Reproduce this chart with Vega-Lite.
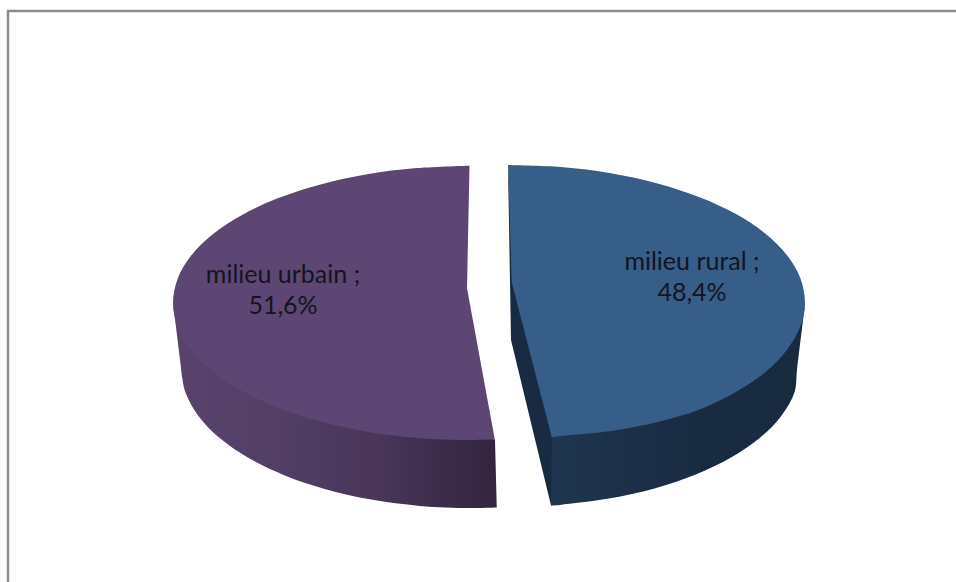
{
  "$schema": "https://vega.github.io/schema/vega-lite/v6.json",
  "autosize": {"type": "fit", "contains": "padding"},
  "width": 956,
  "height": 582,
  "padding": 0,
  "background": "#ffffff",
  "view": {"stroke": null},
  "datasets": {
    "outlines": [
      {"part": "frame", "seq": 1, "x": 956, "y": 11},
      {"part": "frame", "seq": 2, "x": 8, "y": 11},
      {"part": "frame", "seq": 3, "x": 8, "y": 582},

      {"part": "urbain_side", "seq": 1, "x": 173, "y": 303},
      {"part": "urbain_side", "seq": 2, "x": 177.5, "y": 323.8},
      {"part": "urbain_side", "seq": 3, "x": 190.8, "y": 346.9},
      {"part": "urbain_side", "seq": 4, "x": 212.5, "y": 368.5},
      {"part": "urbain_side", "seq": 5, "x": 242, "y": 388.1},
      {"part": "urbain_side", "seq": 6, "x": 278.4, "y": 404.9},
      {"part": "urbain_side", "seq": 7, "x": 320.5, "y": 418.6},
      {"part": "urbain_side", "seq": 8, "x": 367.1, "y": 428.7},
      {"part": "urbain_side", "seq": 9, "x": 416.8, "y": 434.9},
      {"part": "urbain_side", "seq": 10, "x": 468, "y": 437},
      {"part": "urbain_side", "seq": 11, "x": 495, "y": 439.3},
      {"part": "urbain_side", "seq": 11.5, "x": 495, "y": 439.3},
      {"part": "urbain_side", "seq": 12, "x": 497, "y": 507.5},
      {"part": "urbain_side", "seq": 12.5, "x": 497, "y": 507.5},
      {"part": "urbain_side", "seq": 13, "x": 470, "y": 508},
      {"part": "urbain_side", "seq": 14, "x": 419.8, "y": 505.9},
      {"part": "urbain_side", "seq": 15, "x": 371.2, "y": 499.6},
      {"part": "urbain_side", "seq": 16, "x": 325.5, "y": 489.2},
      {"part": "urbain_side", "seq": 17, "x": 284.2, "y": 475.2},
      {"part": "urbain_side", "seq": 18, "x": 248.6, "y": 458},
      {"part": "urbain_side", "seq": 19, "x": 219.7, "y": 438},
      {"part": "urbain_side", "seq": 20, "x": 198.4, "y": 415.9},
      {"part": "urbain_side", "seq": 21, "x": 185.4, "y": 392.3},
      {"part": "urbain_side", "seq": 22, "x": 181, "y": 368},

      {"part": "urbain_top", "seq": 1, "x": 469.5, "y": 165.7},
      {"part": "urbain_top", "seq": 2, "x": 416.8, "y": 168.1},
      {"part": "urbain_top", "seq": 3, "x": 367.1, "y": 174.3},
      {"part": "urbain_top", "seq": 4, "x": 320.5, "y": 184.4},
      {"part": "urbain_top", "seq": 5, "x": 278.4, "y": 198.1},
      {"part": "urbain_top", "seq": 6, "x": 242, "y": 214.9},
      {"part": "urbain_top", "seq": 7, "x": 212.5, "y": 234.5},
      {"part": "urbain_top", "seq": 8, "x": 190.8, "y": 256.1},
      {"part": "urbain_top", "seq": 9, "x": 177.5, "y": 279.2},
      {"part": "urbain_top", "seq": 10, "x": 173, "y": 303},
      {"part": "urbain_top", "seq": 11, "x": 177.5, "y": 326.8},
      {"part": "urbain_top", "seq": 12, "x": 190.8, "y": 349.9},
      {"part": "urbain_top", "seq": 13, "x": 212.5, "y": 371.5},
      {"part": "urbain_top", "seq": 14, "x": 242, "y": 391.1},
      {"part": "urbain_top", "seq": 15, "x": 278.4, "y": 407.9},
      {"part": "urbain_top", "seq": 16, "x": 320.5, "y": 421.6},
      {"part": "urbain_top", "seq": 17, "x": 367.1, "y": 431.7},
      {"part": "urbain_top", "seq": 18, "x": 416.8, "y": 437.9},
      {"part": "urbain_top", "seq": 19, "x": 468, "y": 440},
      {"part": "urbain_top", "seq": 20, "x": 495, "y": 439.3},
      {"part": "urbain_top", "seq": 20.5, "x": 495, "y": 439.3},
      {"part": "urbain_top", "seq": 21, "x": 467, "y": 288},

      {"part": "rural_cut", "seq": 1, "x": 508, "y": 165},
      {"part": "rural_cut", "seq": 2, "x": 515, "y": 282},
      {"part": "rural_cut", "seq": 3, "x": 553, "y": 440},
      {"part": "rural_cut", "seq": 4, "x": 552, "y": 505},
      {"part": "rural_cut", "seq": 5, "x": 551, "y": 505.5},
      {"part": "rural_cut", "seq": 6, "x": 511, "y": 340},

      {"part": "rural_side", "seq": 1, "x": 552, "y": 437},
      {"part": "rural_side", "seq": 2, "x": 561.2, "y": 433},
      {"part": "rural_side", "seq": 3, "x": 610.9, "y": 428},
      {"part": "rural_side", "seq": 4, "x": 657.5, "y": 419},
      {"part": "rural_side", "seq": 5, "x": 699.6, "y": 406.5},
      {"part": "rural_side", "seq": 6, "x": 736, "y": 389},
      {"part": "rural_side", "seq": 7, "x": 765.5, "y": 369},
      {"part": "rural_side", "seq": 8, "x": 787.2, "y": 346.5},
      {"part": "rural_side", "seq": 9, "x": 800.5, "y": 323},
      {"part": "rural_side", "seq": 10, "x": 805, "y": 304},
      {"part": "rural_side", "seq": 10.5, "x": 805, "y": 304},
      {"part": "rural_side", "seq": 11, "x": 797, "y": 370},
      {"part": "rural_side", "seq": 12, "x": 794.6, "y": 392},
      {"part": "rural_side", "seq": 13, "x": 781.6, "y": 415.5},
      {"part": "rural_side", "seq": 14, "x": 760.3, "y": 437.5},
      {"part": "rural_side", "seq": 15, "x": 731.4, "y": 457.3},
      {"part": "rural_side", "seq": 16, "x": 695.8, "y": 474.5},
      {"part": "rural_side", "seq": 17, "x": 654.5, "y": 488.4},
      {"part": "rural_side", "seq": 18, "x": 608.8, "y": 498.6},
      {"part": "rural_side", "seq": 19, "x": 560.2, "y": 504.9},
      {"part": "rural_side", "seq": 20, "x": 551, "y": 505.5},

      {"part": "rural_top", "seq": 1, "x": 508, "y": 165},
      {"part": "rural_top", "seq": 2, "x": 561.2, "y": 167.1},
      {"part": "rural_top", "seq": 3, "x": 610.9, "y": 173.3},
      {"part": "rural_top", "seq": 4, "x": 657.5, "y": 183.4},
      {"part": "rural_top", "seq": 5, "x": 699.6, "y": 197.2},
      {"part": "rural_top", "seq": 6, "x": 736, "y": 214.1},
      {"part": "rural_top", "seq": 7, "x": 765.5, "y": 233.8},
      {"part": "rural_top", "seq": 8, "x": 787.2, "y": 255.5},
      {"part": "rural_top", "seq": 9, "x": 800.5, "y": 278.6},
      {"part": "rural_top", "seq": 10, "x": 805, "y": 304},
      {"part": "rural_top", "seq": 11, "x": 800.5, "y": 326},
      {"part": "rural_top", "seq": 12, "x": 787.2, "y": 349.5},
      {"part": "rural_top", "seq": 13, "x": 765.5, "y": 372},
      {"part": "rural_top", "seq": 14, "x": 736, "y": 392},
      {"part": "rural_top", "seq": 15, "x": 699.6, "y": 409.5},
      {"part": "rural_top", "seq": 16, "x": 657.5, "y": 422},
      {"part": "rural_top", "seq": 17, "x": 610.9, "y": 431},
      {"part": "rural_top", "seq": 18, "x": 561.2, "y": 436},
      {"part": "rural_top", "seq": 19, "x": 552, "y": 437},
      {"part": "rural_top", "seq": 19.5, "x": 552, "y": 437},
      {"part": "rural_top", "seq": 20, "x": 511.7, "y": 282}
    ],
    "labels": [
      {"text": "milieu urbain ;", "x": 283, "y": 275},
      {"text": "51,6%", "x": 283, "y": 306},
      {"text": "milieu rural ;", "x": 692, "y": 262},
      {"text": "48,4%", "x": 692, "y": 293}
    ]
  },
  "encoding": {
    "x": {"field": "x", "type": "quantitative", "axis": null, "scale": {"domain": [0, 956], "nice": false, "zero": false}},
    "y": {"field": "y", "type": "quantitative", "axis": null, "scale": {"domain": [582, 0], "nice": false, "zero": false}}
  },
  "layer": [
    {
      "data": {"name": "outlines"},
      "transform": [{"filter": "datum.part === 'frame'"}],
      "mark": {"type": "line", "stroke": "#8c8c8c", "strokeWidth": 2.5, "clip": true},
      "encoding": {"order": {"field": "seq", "type": "quantitative"}}
    },
    {
      "data": {"name": "outlines"},
      "transform": [{"filter": "datum.part === 'urbain_side'"}],
      "mark": {
        "type": "line",
        "interpolate": "catmull-rom",
        "strokeWidth": 0,
        "fill": {
          "gradient": "linear", "x1": 0, "y1": 0, "x2": 1, "y2": 0,
          "stops": [
            {"offset": 0, "color": "#59436e"},
            {"offset": 0.35, "color": "#523e65"},
            {"offset": 0.65, "color": "#483558"},
            {"offset": 0.85, "color": "#3b2b49"},
            {"offset": 1, "color": "#33253e"}
          ]
        }
      },
      "encoding": {"order": {"field": "seq", "type": "quantitative"}}
    },
    {
      "data": {"name": "outlines"},
      "transform": [{"filter": "datum.part === 'urbain_top'"}],
      "mark": {"type": "line", "interpolate": "catmull-rom", "strokeWidth": 0, "fill": "#5d4673"},
      "encoding": {"order": {"field": "seq", "type": "quantitative"}}
    },
    {
      "data": {"name": "outlines"},
      "transform": [{"filter": "datum.part === 'rural_cut'"}],
      "mark": {"type": "line", "strokeWidth": 0, "fill": "#182b42"},
      "encoding": {"order": {"field": "seq", "type": "quantitative"}}
    },
    {
      "data": {"name": "outlines"},
      "transform": [{"filter": "datum.part === 'rural_side'"}],
      "mark": {
        "type": "line",
        "interpolate": "catmull-rom",
        "strokeWidth": 0,
        "fill": {
          "gradient": "linear", "x1": 0, "y1": 0, "x2": 1, "y2": 0,
          "stops": [
            {"offset": 0, "color": "#203650"},
            {"offset": 0.25, "color": "#1c3049"},
            {"offset": 0.6, "color": "#192b41"},
            {"offset": 1, "color": "#182a3e"}
          ]
        }
      },
      "encoding": {"order": {"field": "seq", "type": "quantitative"}}
    },
    {
      "data": {"name": "outlines"},
      "transform": [{"filter": "datum.part === 'rural_top'"}],
      "mark": {"type": "line", "interpolate": "catmull-rom", "strokeWidth": 0, "fill": "#375d89"},
      "encoding": {"order": {"field": "seq", "type": "quantitative"}}
    },
    {
      "data": {"name": "labels"},
      "mark": {"type": "text", "font": "Lato", "fontSize": 25, "color": "#14141f", "align": "center", "baseline": "middle"},
      "encoding": {"text": {"field": "text"}}
    }
  ]
}
